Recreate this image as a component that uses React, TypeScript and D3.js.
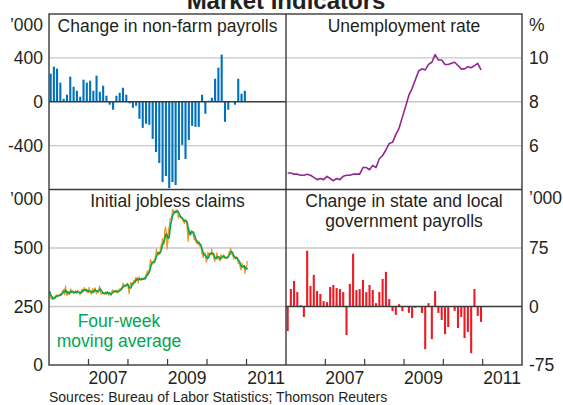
import React from 'react';
import * as d3 from 'd3';

// monthly data, Jan 2006 - Dec 2010
const payrolls = [
  256, 320, 302, 174, 27, 64, 229, 137, 100, 46, 201, 174,
  192, 100, 238, 91, 146, 55, -27, -73, 55, 82, 128, 64,
  -15, -55, -37, -156, -238, -201, -210, -339, -458, -558, -732, -677,
  -787, -732, -759, -531, -393, -522, -348, -220, -229, -229, 64, -110,
  9, 37, 210, 311, 430, -183, -73, -2, -27, 210, 73, 100,
];

const unemployment = [
  4.75, 4.75, 4.7, 4.7, 4.65, 4.65, 4.7, 4.65, 4.55, 4.45, 4.5, 4.45,
  4.6, 4.5, 4.4, 4.5, 4.45, 4.6, 4.65, 4.65, 4.7, 4.7, 4.7, 5.0,
  5.0, 4.9, 5.1, 5.0, 5.4, 5.55, 5.8, 6.1, 6.15, 6.5, 6.8, 7.3,
  7.8, 8.3, 8.6, 9.0, 9.4, 9.5, 9.45, 9.7, 9.8, 10.15, 9.9, 9.9,
  9.7, 9.7, 9.75, 9.8, 9.65, 9.5, 9.5, 9.6, 9.55, 9.65, 9.75, 9.45,
];

const govPayrolls = [
  -31.5, 22.4, 32.8, 18.5, 1.7, -13.4, 71.5, 26.3, 40.5, 19.8, 16, 6.9,
  5.6, 25, 27.6, 23.7, 22.4, 18.5, -36.6, 28.9, 67.7, 21.1, 22.4, 34,
  18.5, 27.6, 21.1, 4.3, 18.5, 35.3, 44.4, 9.5, -6, -10.8, 3, -6,
  0, -8.2, -14.7, -1.7, 0, -8.2, -54.7, 4.3, -41.8, 19.8, -8.2, -17.2,
  -35.3, -26.3, 0, -5.6, -27.6, -13.4, -40.5, -32.8, -59.9, 22.4, -12, -19.8,
];

// weekly initial claims ('000), week ending 7 Jan 2006 onwards
const claims = [
  // 2006
  315, 290, 285, 282, 280, 286, 292, 288, 296, 298, 300, 292, 295,
  300, 305, 298, 308, 318, 312, 325, 300, 338, 305, 296, 312, 310,
  302, 318, 325, 308, 312, 310, 305, 312, 318, 310, 305, 320, 312,
  308, 300, 310, 320, 325, 312, 320, 332, 316, 322, 312, 315, 308,
  // 2007
  332, 312, 310, 302, 315, 328, 308, 322, 330, 310, 305, 315, 320,
  322, 338, 318, 302, 305, 308, 310, 302, 305, 312, 302, 315, 310,
  298, 310, 302, 298, 312, 322, 315, 310, 316, 318, 310, 320, 308,
  316, 322, 328, 320, 328, 338, 350, 332, 340, 336, 346, 344, 350,
  // 2008
  325, 305, 335, 352, 345, 352, 340, 362, 355, 365, 375, 360, 372,
  350, 378, 368, 365, 362, 372, 368, 365, 375, 368, 385, 392, 402,
  382, 400, 415, 450, 445, 430, 432, 445, 445, 455, 465, 495, 478,
  480, 470, 478, 490, 510, 515, 540, 530, 515, 575, 590, 565, 495,
  // 2009
  524, 582, 588, 626, 623, 627, 660, 665, 645, 652, 650, 665, 658,
  660, 628, 640, 632, 630, 628, 625, 615, 612, 605, 625, 618, 610,
  565, 528, 585, 556, 560, 575, 572, 570, 550, 535, 540, 528, 520,
  528, 515, 528, 510, 505, 502, 476, 470, 458, 478, 480, 455, 440,
  // 2010
  450, 482, 470, 478, 472, 473, 496, 470, 468, 456, 442, 458, 460,
  480, 456, 455, 451, 445, 470, 471, 461, 458, 472, 457, 454, 455,
  462, 464, 465, 484, 485, 500, 473, 473, 466, 453, 465, 457, 453,
  462, 452, 434, 437, 436, 410, 407, 436, 421, 423, 421, 390, 420,
  // 2011
  409, 445,
];

const yearLabels = ['2007', '2009', '2011'];
const payTicks = [400, 0, -400];
const unempTicks = [10, 8, 6];
const claimTicks = [500, 250, 0];
const govTicks = [75, 0, -75];

const W = 563;
const H = 405;
const L = 49;
const M = 286;
const R = 522;
const T = 14;
const MID = 189.5;
const B = 365;

const font = "'Liberation Sans', Arial, sans-serif";
const ink = '#231f20';
const frame = '#3a3a3a';
const grid = '#c8c8c8';

const start = new Date(2006, 0, 1);
const end = new Date(2012, 0, 1);
const months = d3.timeMonth.range(start, new Date(2011, 0, 1));
const weeks = claims.map((_, i) => d3.timeDay.offset(new Date(2006, 0, 7), 7 * i));
const movingAvg = claims.map((_, i) => d3.mean(claims.slice(Math.max(0, i - 3), i + 1)) as number);
const yearStarts = d3.timeYear.range(new Date(2007, 0, 1), new Date(2011, 0, 2));

const App = () => {
  const xL = d3.scaleTime().domain([start, end]).range([L, M]);
  const xR = d3.scaleTime().domain([start, end]).range([M, R]);
  const yPay = d3.scaleLinear().domain([-800, 800]).range([MID, T]);
  const yUnemp = d3.scaleLinear().domain([4, 12]).range([MID, T]);
  const yClaims = d3.scaleLinear().domain([0, 750]).range([B, MID]);
  const yGov = d3.scaleLinear().domain([-75, 150]).range([B, MID]);

  const midMonth = (x, m) => (x(m) + x(d3.timeMonth.offset(m, 1))) / 2;
  const barW = 2.1;

  const unempLine = d3
    .line<number>()
    .x((_, i) => midMonth(xR, months[i]))
    .y((d) => yUnemp(d));
  const claimsLine = d3
    .line<number>()
    .x((_, i) => xL(weeks[i]))
    .y((d) => yClaims(d));

  const txt = { fontFamily: font, fill: ink };

  return (
    <svg width={W} height={H} style={{ position: 'absolute', left: 0, top: 0, background: '#fff' }}>
      <text x={286} y={9} textAnchor="middle" fontSize={24} fontWeight="bold" style={txt}>
        Market Indicators
      </text>

      {/* gridlines */}
      {payTicks.filter((t) => t !== 0).map((t) => (
        <line key={'pg' + t} x1={L} x2={M} y1={yPay(t)} y2={yPay(t)} stroke={grid} strokeWidth={1.3} />
      ))}
      {unempTicks.map((t) => (
        <line key={'ug' + t} x1={M} x2={R} y1={yUnemp(t)} y2={yUnemp(t)} stroke={grid} strokeWidth={1.3} />
      ))}
      {claimTicks.filter((t) => t !== 0).map((t) => (
        <line key={'cg' + t} x1={L} x2={M} y1={yClaims(t)} y2={yClaims(t)} stroke={grid} strokeWidth={1.3} />
      ))}
      <line x1={M} x2={R} y1={yGov(75)} y2={yGov(75)} stroke={grid} strokeWidth={1.3} />

      {/* non-farm payrolls */}
      {payrolls.map((v, i) => (
        <rect
          key={'p' + i}
          x={midMonth(xL, months[i]) - barW / 2}
          y={yPay(Math.max(0, v))}
          width={barW}
          height={Math.abs(yPay(v) - yPay(0))}
          fill="#0072bc"
        />
      ))}
      <line x1={L} x2={M} y1={yPay(0)} y2={yPay(0)} stroke={frame} strokeWidth={1.3} />

      {/* unemployment */}
      <path d={unempLine(unemployment) as string} fill="none" stroke="#92278f" strokeWidth={1.6} strokeLinejoin="round" />

      {/* claims */}
      <path d={claimsLine(claims) as string} fill="none" stroke="#f7941d" strokeWidth={1.2} strokeLinejoin="round" />
      <path d={claimsLine(movingAvg) as string} fill="none" stroke="#00a651" strokeWidth={1.6} strokeLinejoin="round" />

      {/* state and local government payrolls */}
      {govPayrolls.map((v, i) => (
        <rect
          key={'g' + i}
          x={midMonth(xR, months[i]) - barW / 2}
          y={yGov(Math.max(0, v))}
          width={barW}
          height={Math.abs(yGov(v) - yGov(0))}
          fill="#ed1c24"
        />
      ))}
      <line x1={M} x2={R} y1={yGov(0)} y2={yGov(0)} stroke={frame} strokeWidth={1.3} />

      {/* x ticks */}
      {yearStarts.map((d, i) => (
        <g key={'t' + i}>
          <line x1={xL(d)} x2={xL(d)} y1={B} y2={B - 6} stroke={frame} strokeWidth={1.2} />
          <line x1={xR(d)} x2={xR(d)} y1={B} y2={B - 6} stroke={frame} strokeWidth={1.2} />
        </g>
      ))}

      {/* frames */}
      <rect x={L} y={T} width={R - L} height={B - T} fill="none" stroke={frame} strokeWidth={1.4} />
      <line x1={M} x2={M} y1={T} y2={B} stroke={frame} strokeWidth={1.4} />
      <line x1={L} x2={R} y1={MID} y2={MID} stroke={frame} strokeWidth={1.4} />

      {/* panel titles */}
      <g fontSize={17.5} textAnchor="middle" style={txt}>
        <text x={(L + M) / 2} y={32}>Change in non-farm payrolls</text>
        <text x={(M + R) / 2} y={32}>Unemployment rate</text>
        <text x={(L + M) / 2} y={207}>Initial jobless claims</text>
        <text x={(M + R) / 2} y={207}>Change in state and local</text>
        <text x={(M + R) / 2} y={227}>government payrolls</text>
      </g>
      <g fontSize={17.5} textAnchor="middle" style={{ fontFamily: font, fill: '#00a651' }}>
        <text x={119} y={327}>Four-week</text>
        <text x={119} y={346.5}>moving average</text>
      </g>

      {/* y axes */}
      <g fontSize={17.5} textAnchor="end" style={txt}>
        <text x={43} y={31}>’000</text>
        {payTicks.map((t) => (
          <text key={'pl' + t} x={43} y={yPay(t)} dy="0.35em">{t}</text>
        ))}
        <text x={43} y={205}>’000</text>
        {claimTicks.map((t) => (
          <text key={'cl' + t} x={43} y={yClaims(t)} dy="0.35em">{t}</text>
        ))}
      </g>
      <g fontSize={17.5} textAnchor="start" style={txt}>
        <text x={529} y={31}>%</text>
        {unempTicks.map((t) => (
          <text key={'ul' + t} x={529} y={yUnemp(t)} dy="0.35em">{t}</text>
        ))}
        <text x={529} y={204}>’000</text>
        {govTicks.map((t) => (
          <text key={'gl' + t} x={529} y={yGov(t)} dy="0.35em">{t}</text>
        ))}
      </g>

      {/* x labels */}
      <g fontSize={17.5} textAnchor="middle" style={txt}>
        {yearLabels.map((y) => {
          const mid = new Date(+y, 6, 1);
          return (
            <g key={'y' + y}>
              <text x={xL(mid)} y={384}>{y}</text>
              <text x={xR(mid)} y={384}>{y}</text>
            </g>
          );
        })}
      </g>

      <text x={49} y={402} fontSize={14} style={txt}>
        Sources: Bureau of Labor Statistics; Thomson Reuters
      </text>
    </svg>
  );
};

export default App;
